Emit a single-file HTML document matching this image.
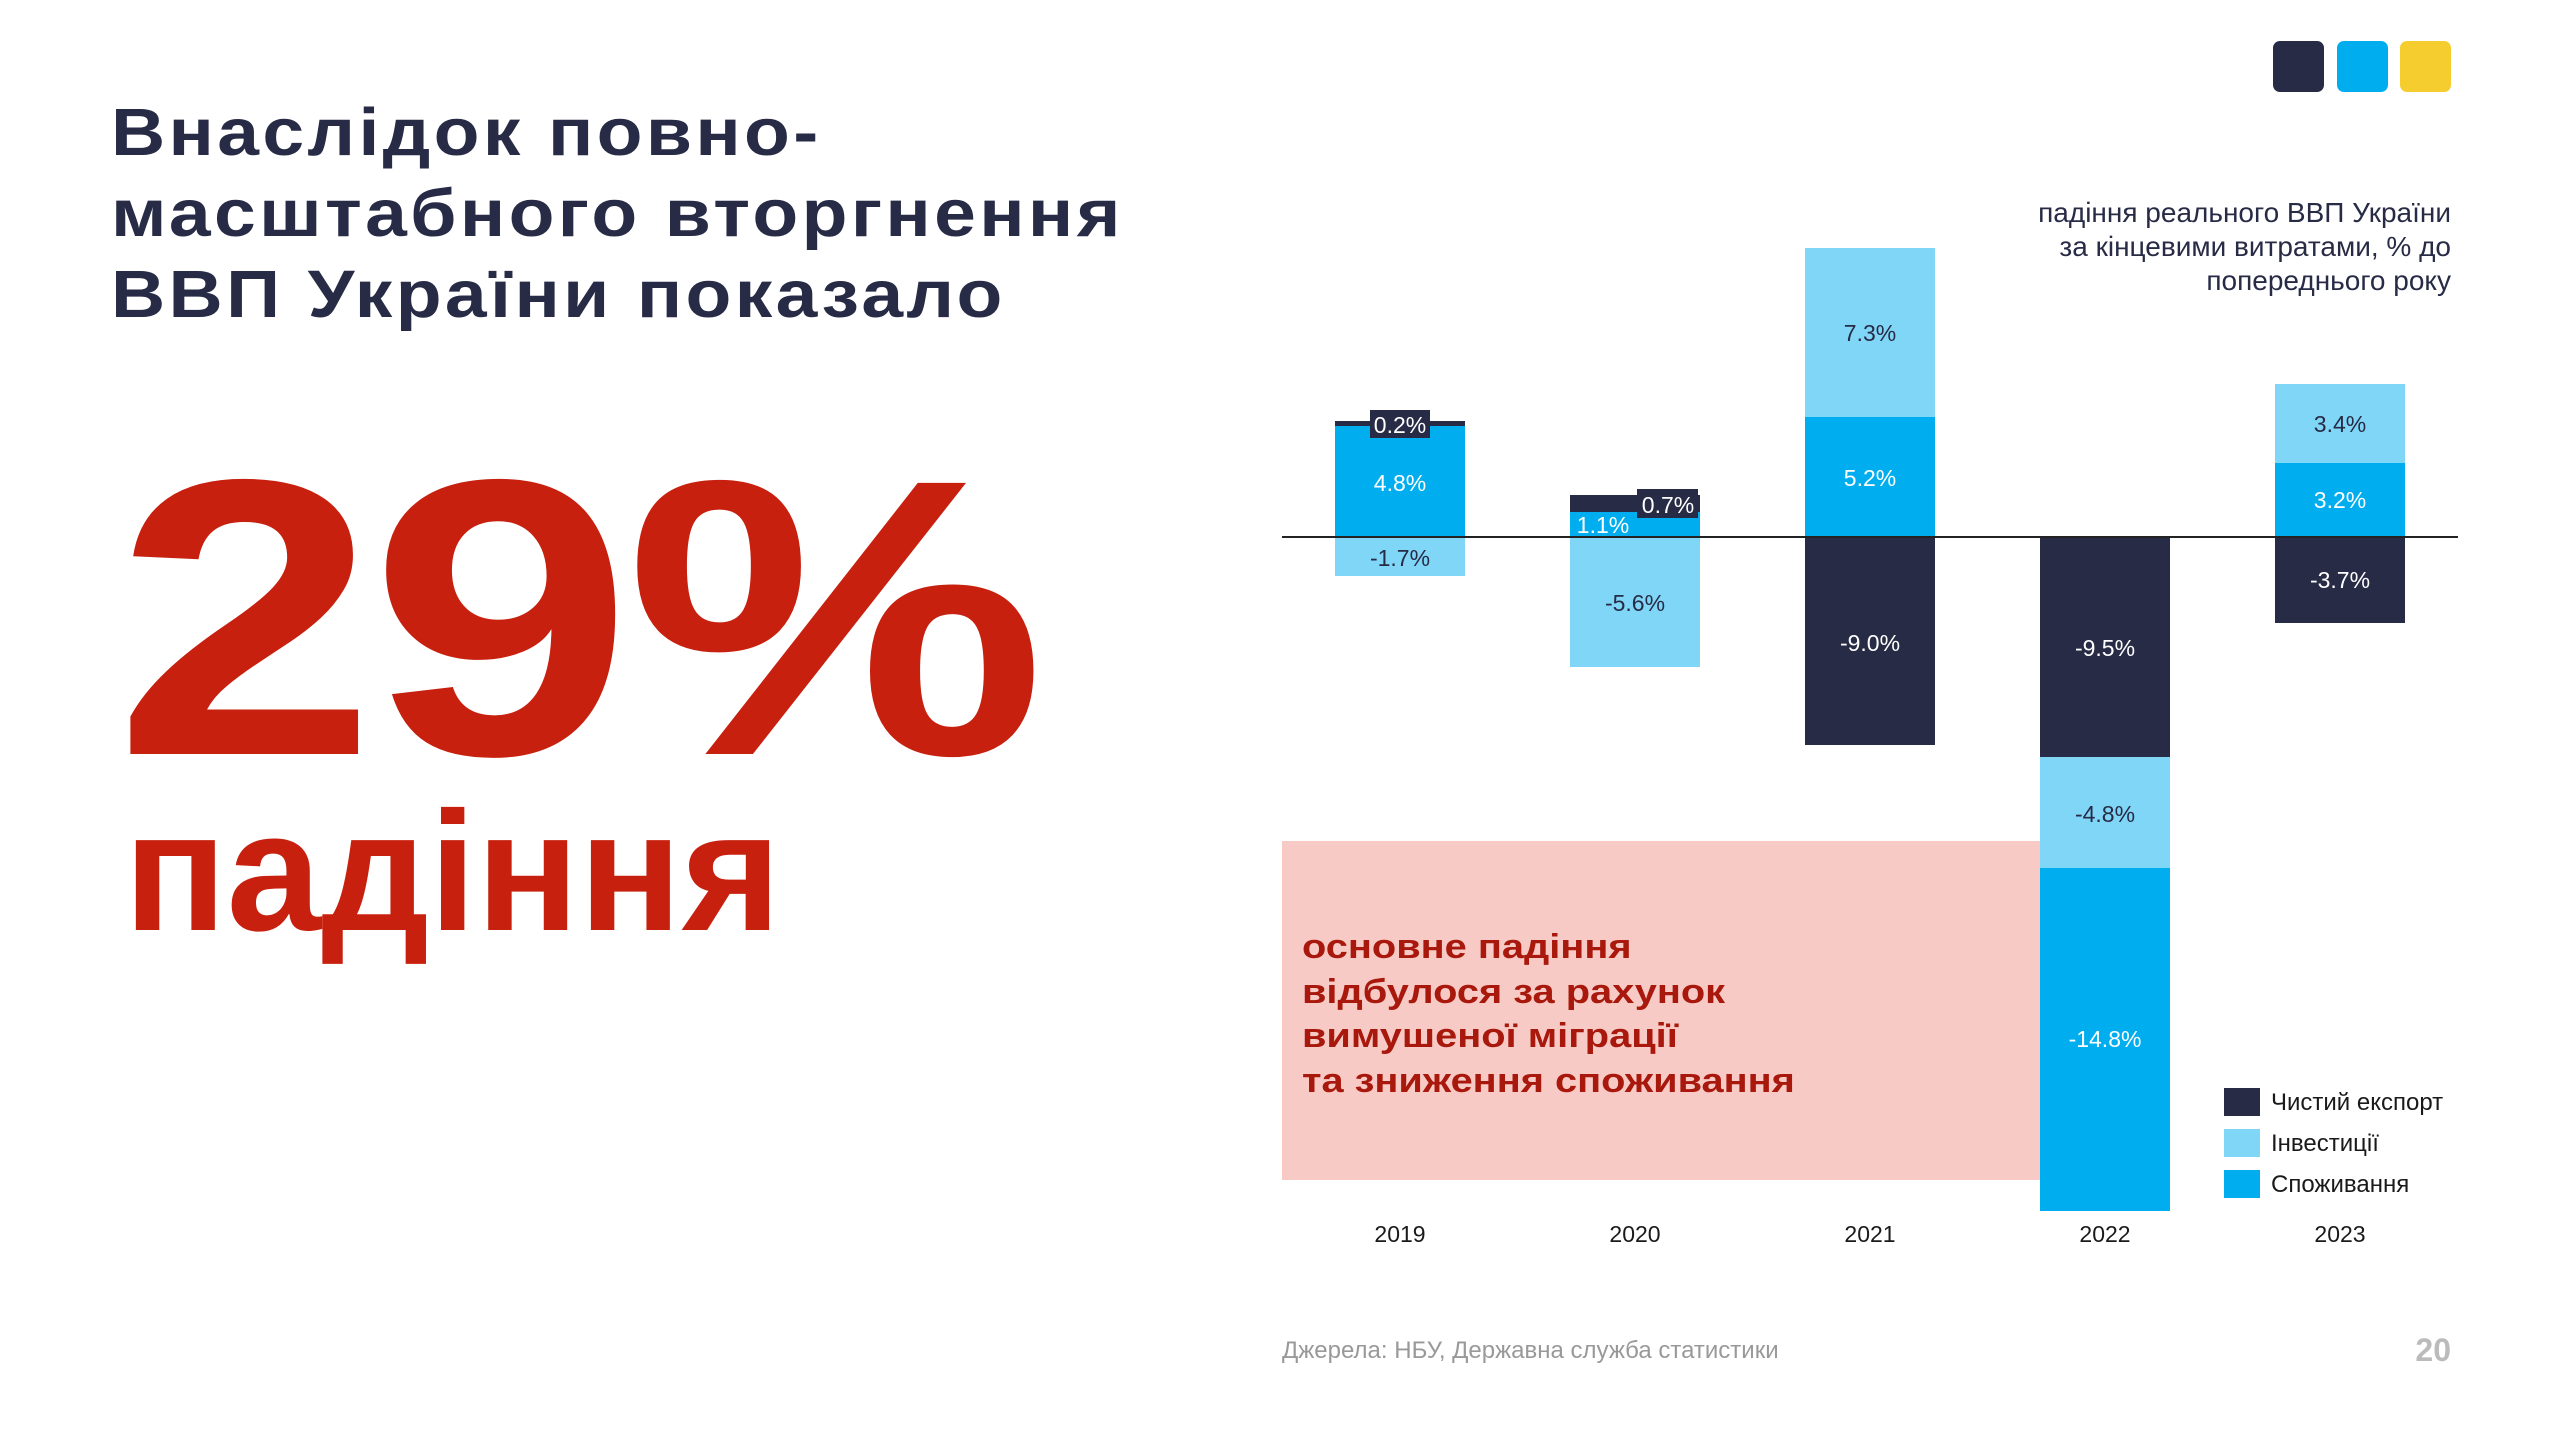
<!DOCTYPE html>
<html><head><meta charset="utf-8"><style>
html,body{margin:0;padding:0;background:#fff;}
body{width:2560px;height:1440px;position:relative;overflow:hidden;font-family:"Liberation Sans","DejaVu Sans",sans-serif;}
.t{position:absolute;left:111px;top:92px;font-size:67px;font-weight:bold;color:#272B45;line-height:81px;letter-spacing:3px;transform:scaleX(1.12);transform-origin:left top;white-space:nowrap;}
.big{position:absolute;left:114px;top:421px;font-size:394px;font-weight:bold;color:#C8200F;line-height:394px;transform:scaleX(1.2);transform-origin:left top;letter-spacing:-6px;white-space:nowrap;}
.pad{position:absolute;left:124px;top:787px;font-size:170px;font-weight:bold;color:#C8200F;line-height:170px;letter-spacing:0px;white-space:nowrap;}
</style></head><body>
<div class="t">Внаслідок повно-<br>масштабного вторгнення<br>ВВП України показало</div>
<div class="big">29%</div>
<div class="pad">падіння</div>
<svg width="2560" height="1440" style="position:absolute;left:0;top:0" font-family="Liberation Sans, DejaVu Sans, sans-serif">
<rect x="2273" y="41" width="51" height="51" rx="7" fill="#272B45"/>
<rect x="2337" y="41" width="51" height="51" rx="7" fill="#00AEEF"/>
<rect x="2400" y="41" width="51" height="51" rx="7" fill="#F5CD2F"/>
<g font-size="28" fill="#272B45" text-anchor="end">
<text x="2451" y="222">падіння реального ВВП України</text>
<text x="2451" y="256">за кінцевими витратами, % до</text>
<text x="2451" y="290">попереднього року</text>
</g>
<rect x="1282" y="841" width="758" height="339" fill="#F8CAC6"/>
<g font-size="34" font-weight="bold" fill="#A8180C" transform="translate(1302,0) scale(1.17,1) translate(-1302,0)">
<text x="1302" y="958">основне падіння</text>
<text x="1302" y="1003">відбулося за рахунок</text>
<text x="1302" y="1047">вимушеної міграції</text>
<text x="1302" y="1092">та зниження споживання</text>
</g>
<!-- 2019 -->
<rect x="1335" y="421" width="130" height="5" fill="#272B45"/>
<rect x="1335" y="426" width="130" height="111" fill="#00AEEF"/>
<rect x="1335" y="537" width="130" height="39" fill="#7FD6F7"/>
<rect x="1370" y="410" width="60" height="28" fill="#272B45"/>
<!-- 2020 -->
<rect x="1570" y="495" width="130" height="17" fill="#272B45"/>
<rect x="1570" y="512" width="130" height="25" fill="#00AEEF"/>
<rect x="1570" y="537" width="130" height="130" fill="#7FD6F7"/>
<rect x="1637" y="489" width="61" height="29" fill="#272B45"/>
<!-- 2021 -->
<rect x="1805" y="248" width="130" height="169" fill="#7FD6F7"/>
<rect x="1805" y="417" width="130" height="120" fill="#00AEEF"/>
<rect x="1805" y="537" width="130" height="208" fill="#272B45"/>
<!-- 2022 -->
<rect x="2040" y="537" width="130" height="220" fill="#272B45"/>
<rect x="2040" y="757" width="130" height="111" fill="#7FD6F7"/>
<rect x="2040" y="868" width="130" height="343" fill="#00AEEF"/>
<!-- 2023 -->
<rect x="2275" y="384" width="130" height="79" fill="#7FD6F7"/>
<rect x="2275" y="463" width="130" height="74" fill="#00AEEF"/>
<rect x="2275" y="537" width="130" height="86" fill="#272B45"/>
<line x1="1282" y1="537" x2="2458" y2="537" stroke="#222" stroke-width="2"/>
<g font-size="23" text-anchor="middle">
<text x="1400" y="433" fill="#fff">0.2%</text>
<text x="1400" y="491" fill="#fff">4.8%</text>
<text x="1400" y="566" fill="#272B45">-1.7%</text>
<text x="1668" y="513" fill="#fff">0.7%</text>
<text x="1603" y="533" fill="#fff">1.1%</text>
<text x="1635" y="611" fill="#272B45">-5.6%</text>
<text x="1870" y="341" fill="#272B45">7.3%</text>
<text x="1870" y="486" fill="#fff">5.2%</text>
<text x="1870" y="651" fill="#fff">-9.0%</text>
<text x="2105" y="656" fill="#fff">-9.5%</text>
<text x="2105" y="822" fill="#272B45">-4.8%</text>
<text x="2105" y="1047" fill="#fff">-14.8%</text>
<text x="2340" y="432" fill="#272B45">3.4%</text>
<text x="2340" y="508" fill="#fff">3.2%</text>
<text x="2340" y="588" fill="#fff">-3.7%</text>
<g fill="#1a1a1a">
<text x="1400" y="1242">2019</text>
<text x="1635" y="1242">2020</text>
<text x="1870" y="1242">2021</text>
<text x="2105" y="1242">2022</text>
<text x="2340" y="1242">2023</text>
</g>
</g>
<rect x="2224" y="1088" width="36" height="28" fill="#272B45"/>
<rect x="2224" y="1129" width="36" height="28" fill="#7FD6F7"/>
<rect x="2224" y="1170" width="36" height="28" fill="#00AEEF"/>
<g font-size="24" fill="#1a1a1a">
<text x="2271" y="1110">Чистий експорт</text>
<text x="2271" y="1151">Інвестиції</text>
<text x="2271" y="1192">Споживання</text>
</g>
<text x="1282" y="1358" font-size="24" fill="#999">Джерела: НБУ, Державна служба статистики</text>
<text x="2451" y="1361" font-size="32" font-weight="bold" fill="#BBBBBB" text-anchor="end">20</text>
</svg>
</body></html>
